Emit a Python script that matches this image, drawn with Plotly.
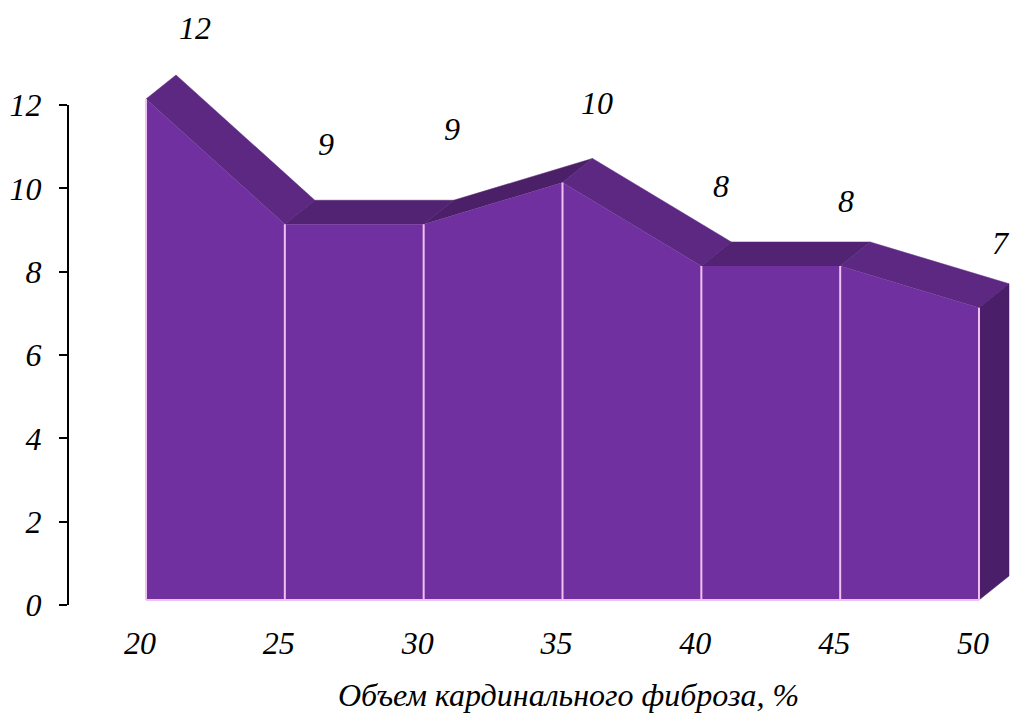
import plotly.graph_objects as go

# Fibrosis volume (%) categories and counts
fibrosis_pct = [20, 25, 30, 35, 40, 45, 50]
counts = [12, 9, 9, 10, 8, 8, 7]
y_ticks = [0, 2, 4, 6, 8, 10, 12]
x_title = "Объем кардинального фиброза, %"

# Label offsets (px) relative to each front vertex, mimicking 3-D label placement
label_dx = [49, 41, 28, 34, 20, 6, 22]
label_dy = [71, 80, 95, 79, 80, 65, 65]

W, H = 1010, 723
M_L, M_R, M_T, M_B = 68, 0, 0, 118
plot_w = W - M_L - M_R
plot_h = H - M_T - M_B

# axis ranges (front face is drawn on an overlaid axis a few px higher)
x_range = [17.191, 51.116]
y_range = [0, 14.52]
y2_range = [-0.1198, 14.371]
px_per_x = plot_w / (x_range[1] - x_range[0])
px_per_y2 = plot_h / (y2_range[1] - y2_range[0])

DEPTH_X_PX, DEPTH_Y_PX = 30, 24
dx = DEPTH_X_PX / px_per_x
dy = DEPTH_Y_PX / px_per_y2

FRONT = "#7030A0"
TOP_DOWN = "#5C2882"
TOP_FLAT = "#532373"
TOP_UP = "#4C2069"
SIDE = "#4A1E68"
EDGE = "#F0C0F0"
FONT = dict(family="Liberation Serif, Times New Roman, serif", size=32,
            color="black", style="italic")

fig = go.Figure()

# top ribbon of the 3-D area
for i in range(len(counts) - 1):
    x0, x1 = fibrosis_pct[i], fibrosis_pct[i + 1]
    v0, v1 = counts[i], counts[i + 1]
    col = TOP_DOWN if v1 < v0 else (TOP_UP if v1 > v0 else TOP_FLAT)
    fig.add_trace(go.Scatter(
        x=[x0, x1, x1 + dx, x0 + dx, x0],
        y=[v0, v1, v1 + dy, v0 + dy, v0],
        fill="toself", fillcolor=col, mode="lines",
        line=dict(width=0.5, color=col), yaxis="y2", hoverinfo="skip",
        showlegend=False))

# right side face
xe, ve = fibrosis_pct[-1], counts[-1]
fig.add_trace(go.Scatter(
    x=[xe, xe, xe + dx, xe + dx, xe],
    y=[0, ve, ve + dy, dy, 0],
    fill="toself", fillcolor=SIDE, mode="lines",
    line=dict(width=0.5, color=SIDE), yaxis="y2", hoverinfo="skip",
    showlegend=False))

# front face
fig.add_trace(go.Scatter(
    x=fibrosis_pct + [fibrosis_pct[-1], fibrosis_pct[0], fibrosis_pct[0]],
    y=counts + [0, 0, counts[0]],
    fill="toself", fillcolor=FRONT, mode="lines",
    line=dict(width=0), yaxis="y2", hoverinfo="skip", showlegend=False))

# light edges: verticals at each category and the bottom edge
vx, vy = [], []
for xv, v in zip(fibrosis_pct, counts):
    vx += [xv, xv, None]
    vy += [0, v, None]
vx += [fibrosis_pct[0], fibrosis_pct[-1]]
vy += [0, 0]
fig.add_trace(go.Scatter(x=vx, y=vy, mode="lines",
                         line=dict(color=EDGE, width=2), yaxis="y2",
                         hoverinfo="skip", showlegend=False))

# value labels
for xv, v, ox, oy in zip(fibrosis_pct, counts, label_dx, label_dy):
    fig.add_annotation(x=xv, y=v, xref="x", yref="y2", text=str(v),
                       showarrow=False, xshift=ox, yshift=oy, font=FONT)

# x-axis title
fig.add_annotation(x=(568 - M_L) / plot_w, y=(plot_h - 695) / plot_h,
                   xref="paper", yref="paper", xanchor="center",
                   yanchor="middle", text=x_title, showarrow=False, font=FONT)

# value-axis line spanning 0..12
fig.add_shape(type="line", xref="paper", yref="y", x0=0, x1=0,
              y0=y_ticks[0], y1=y_ticks[-1], line=dict(color="black", width=2))

fig.update_layout(
    width=W, height=H, autosize=False,
    margin=dict(l=M_L, r=M_R, t=M_T, b=M_B, pad=0),
    paper_bgcolor="white", plot_bgcolor="white",
    xaxis=dict(range=x_range, tickvals=fibrosis_pct, ticks="",
               showline=False, showgrid=False, zeroline=False,
               tickfont=FONT, ticklabelstandoff=16, ticklabelshift=-6,
               fixedrange=True),
    yaxis=dict(range=y_range, tickvals=y_ticks, ticks="outside", ticklen=8,
               tickwidth=2, tickcolor="black", showline=False,
               showgrid=False, zeroline=False, tickfont=FONT,
               ticklabelstandoff=11, fixedrange=True),
    yaxis2=dict(range=y2_range, overlaying="y", visible=False,
                fixedrange=True),
)

fig.write_html("out.html", config={"displayModeBar": False})
